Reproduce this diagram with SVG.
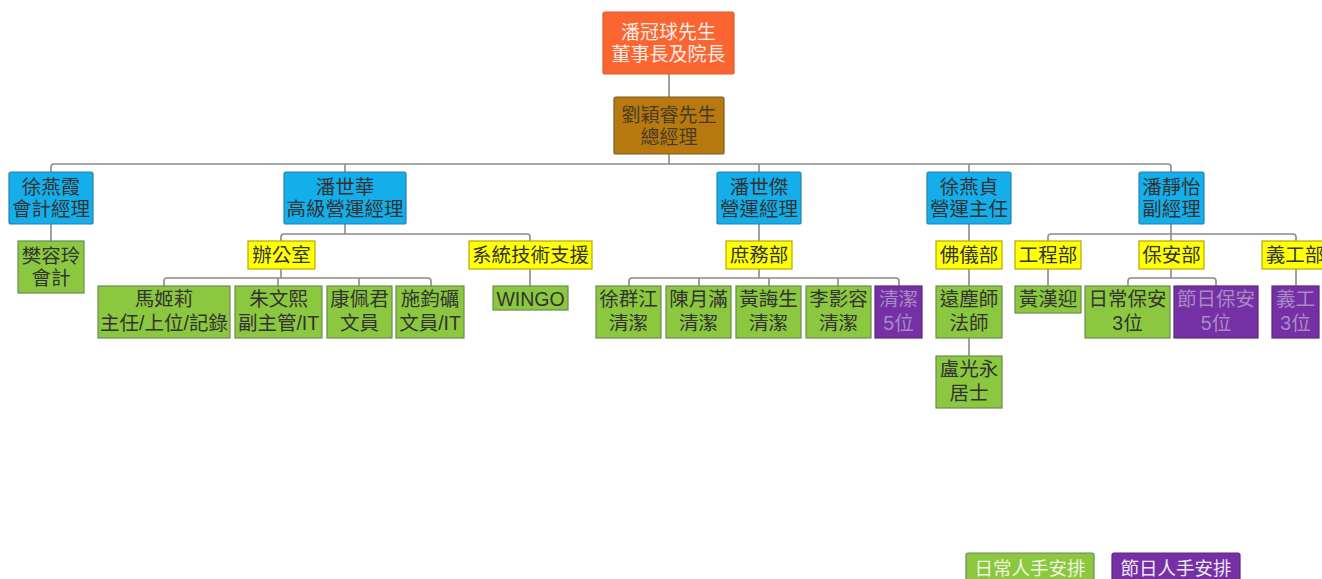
<svg xmlns="http://www.w3.org/2000/svg" width="1322" height="579" viewBox="0 0 1322 579">
<style>
text{font-family:"Liberation Sans","Noto Sans CJK TC",sans-serif;font-size:19.5px;text-anchor:middle;dominant-baseline:central;fill:#333}
.blue rect{fill:#14aeea;stroke:#2b7db0;stroke-width:1.2}
.yellow rect{fill:#ffff06;stroke:#b4a800;stroke-width:1.2}
.green rect{fill:#8cc83f;stroke:#6a8a50;stroke-width:1.2}
.purple rect{fill:#7430a4;stroke:#5a2a7a;stroke-width:1.2}
.purple text{fill:#a98ac4}
.orange rect{fill:#fa6532;stroke:#e05a2a;stroke-width:1.2}
.orange text{fill:#f8ece4}
.brown rect{fill:#b87a10;stroke:#7a5a20;stroke-width:1.2}
.brown text{fill:#4a3a20}
.leg text{fill:#eef5e0;font-size:18.5px}
#connectors path{fill:none;stroke:#8a8a8a;stroke-width:1.6}
</style>
<rect width="1322" height="579" fill="#ffffff"/>
<g id="connectors">
<path d="M669 74V97"/>
<path d="M669 154V164"/>
<path d="M51 172V167Q51 164 54 164H1168Q1171 164 1171 167V172"/>
<path d="M345 164V172M759 164V172M969 164V172"/>
<path d="M51 224V241"/>
<path d="M345 224V234"/>
<path d="M281 241V237Q281 234 284 234H527Q530 234 530 237V241"/>
<path d="M281 269V278"/>
<path d="M164 286V281Q164 278 167 278H428Q431 278 431 281V286"/>
<path d="M278 278V286M359 278V286"/>
<path d="M530 269V286"/>
<path d="M759 224V241"/>
<path d="M759 269V278"/>
<path d="M629 286V281Q629 278 632 278H896Q899 278 899 281V286"/>
<path d="M699 278V286M769 278V286M838 278V286"/>
<path d="M969 224V241"/>
<path d="M969 269V286"/>
<path d="M969 338V356"/>
<path d="M1171 224V241"/>
<path d="M1048 241V237Q1048 234 1051 234H1293Q1296 234 1296 237V241"/>
<path d="M1048 269V286"/>
<path d="M1171 269V278"/>
<path d="M1128 286V281Q1128 278 1131 278H1213Q1216 278 1216 281V286"/>
<path d="M1296 269V286"/>
</g>
<g id="n-chairman" class="orange"><rect x="603" y="12" width="131" height="62" rx="2"/><text x="668.5" y="32" style="font-size:19px">潘冠球先生</text><text x="668.5" y="54" style="font-size:19px">董事長及院長</text></g>
<g id="n-gm" class="brown"><rect x="614" y="97" width="110" height="57" rx="2"/><text x="669" y="115" style="font-size:19px">劉穎睿先生</text><text x="669" y="137" style="font-size:19px">總經理</text></g>
<g id="n-xuyx" class="blue"><rect x="9" y="172" width="84" height="52" rx="2"/><text x="51" y="187">徐燕霞</text><text x="51" y="209">會計經理</text></g>
<g id="n-pansh" class="blue"><rect x="284" y="172" width="122" height="52" rx="2"/><text x="345" y="187">潘世華</text><text x="345" y="209">高級營運經理</text></g>
<g id="n-pansj" class="blue"><rect x="717" y="172" width="84" height="52" rx="2"/><text x="759" y="187">潘世傑</text><text x="759" y="209">營運經理</text></g>
<g id="n-xuyz" class="blue"><rect x="927" y="172" width="84" height="52" rx="2"/><text x="969" y="187">徐燕貞</text><text x="969" y="209">營運主任</text></g>
<g id="n-panjy" class="blue"><rect x="1139" y="172" width="65" height="52" rx="2"/><text x="1171.5" y="187">潘靜怡</text><text x="1171.5" y="209">副經理</text></g>
<g id="n-fanrl" class="green"><rect x="18" y="241" width="66" height="52"/><text x="51" y="256">樊容玲</text><text x="51" y="278">會計</text></g>
<g id="n-office" class="yellow"><rect x="248" y="241" width="67" height="28"/><text x="281.5" y="255">辦公室</text></g>
<g id="n-it" class="yellow"><rect x="469" y="241" width="123" height="28"/><text x="530.5" y="255">系統技術支援</text></g>
<g id="n-general" class="yellow"><rect x="726" y="241" width="66" height="28"/><text x="759" y="255">庶務部</text></g>
<g id="n-buddhist" class="yellow"><rect x="936" y="241" width="66" height="28"/><text x="969" y="255">佛儀部</text></g>
<g id="n-eng" class="yellow"><rect x="1015" y="241" width="66" height="28"/><text x="1048" y="255">工程部</text></g>
<g id="n-security" class="yellow"><rect x="1139" y="241" width="65" height="28"/><text x="1171.5" y="255">保安部</text></g>
<g id="n-volunteer" class="yellow"><rect x="1262" y="241" width="66" height="28"/><text x="1295" y="255">義工部</text></g>
<g id="n-maji" class="green"><rect x="98" y="286" width="132" height="52"/><text x="164" y="299">馬姬莉</text><text x="164" y="323">主任/上位/記錄</text></g>
<g id="n-zhuwx" class="green"><rect x="235" y="286" width="87" height="52"/><text x="278.5" y="299">朱文熙</text><text x="278.5" y="323">副主管/IT</text></g>
<g id="n-kangpj" class="green"><rect x="327" y="286" width="65" height="52"/><text x="359.5" y="299">康佩君</text><text x="359.5" y="323">文員</text></g>
<g id="n-shijl" class="green"><rect x="396" y="286" width="68" height="52"/><text x="430" y="299">施鈞礪</text><text x="430" y="323">文員/IT</text></g>
<g id="n-wingo" class="green"><rect x="493" y="286" width="75" height="24"/><text x="530.5" y="299">WINGO</text></g>
<g id="n-xuqj" class="green"><rect x="596" y="286" width="65" height="52"/><text x="628.5" y="299">徐群江</text><text x="628.5" y="323">清潔</text></g>
<g id="n-chenym" class="green"><rect x="666" y="286" width="65" height="52"/><text x="698.5" y="299">陳月滿</text><text x="698.5" y="323">清潔</text></g>
<g id="n-huangms" class="green"><rect x="736" y="286" width="65" height="52"/><text x="768.5" y="299">黃誨生</text><text x="768.5" y="323">清潔</text></g>
<g id="n-liyr" class="green"><rect x="806" y="286" width="65" height="52"/><text x="838.5" y="299">李影容</text><text x="838.5" y="323">清潔</text></g>
<g id="n-clean5" class="purple"><rect x="875" y="286" width="47" height="52"/><text x="898.5" y="299">清潔</text><text x="898.5" y="323">5位</text></g>
<g id="n-yuancs" class="green"><rect x="936" y="286" width="66" height="52"/><text x="969" y="299">遠塵師</text><text x="969" y="323">法師</text></g>
<g id="n-lugy" class="green"><rect x="936" y="356" width="66" height="52"/><text x="969" y="369">盧光永</text><text x="969" y="393">居士</text></g>
<g id="n-huanghy" class="green"><rect x="1015" y="286" width="66" height="27"/><text x="1048" y="299">黃漢迎</text></g>
<g id="n-daily-sec" class="green"><rect x="1085" y="286" width="85" height="52"/><text x="1127.5" y="299">日常保安</text><text x="1127.5" y="323">3位</text></g>
<g id="n-holiday-sec" class="purple"><rect x="1174" y="286" width="84" height="52"/><text x="1216" y="299">節日保安</text><text x="1216" y="323">5位</text></g>
<g id="n-vol3" class="purple"><rect x="1272" y="286" width="47" height="52"/><text x="1295.5" y="299">義工</text><text x="1295.5" y="323">3位</text></g>
<g id="legend-daily" class="green leg"><rect x="966" y="553" width="128" height="30" rx="2"/><text x="1030" y="568">日常人手安排</text></g>
<g id="legend-holiday" class="purple leg"><rect x="1112" y="553" width="128" height="30" rx="2"/><text x="1176" y="568" style="fill:#eee8f4">節日人手安排</text></g>
</svg>
